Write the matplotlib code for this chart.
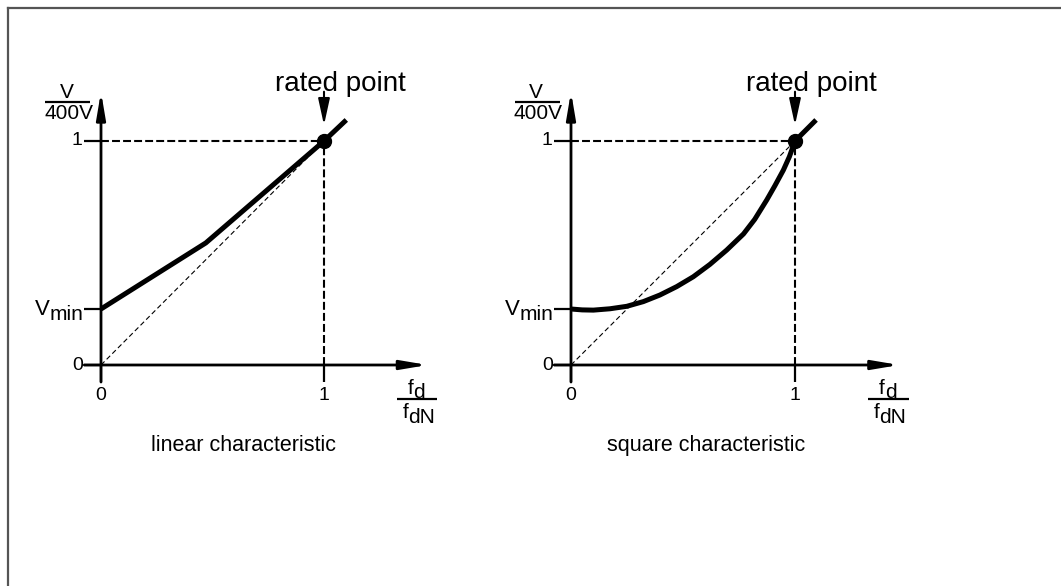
import matplotlib
matplotlib.use("Agg")
import matplotlib.pyplot as plt
from matplotlib.lines import Line2D

plt.rcParams['font.family'] = ['Liberation Sans', 'DejaVu Sans']

# --- characteristic curves (f_d/f_dN, V/400V) ---
v_min = 0.25
rated_f, rated_v = 1.0, 1.0

linear_f = [0.0, 0.47, 1.0, 1.10]
linear_v = [0.25, 0.545, 1.0, 1.094]

square_f = [0.0, 0.05, 0.1, 0.174, 0.249, 0.323, 0.397, 0.472, 0.546, 0.62,
            0.695, 0.77, 0.82, 0.874, 0.91, 0.948, 0.975, 1.0, 1.094]
square_v = [0.25, 0.246, 0.245, 0.251, 0.262, 0.283, 0.3125, 0.35, 0.394, 0.449,
            0.513, 0.585, 0.65, 0.737, 0.8, 0.87, 0.93, 1.0, 1.094]

x_ticks = [0, 1]
x_tick_labels = ['0', '1']
y_ticks = [0, 1]
y_tick_labels = ['0', '1']
captions = ['linear characteristic', 'square characteristic']
caption_x = [0.637, 0.603]

W, H = 1061, 586
fig = plt.figure(figsize=(W / 100, H / 100), dpi=100)

XLIM = (-0.45, 1.55)
YLIM = (-0.55, 1.40)


def make_axes(ox, oy, sx, sy):
    # place axes so that data (0,0) sits at pixel (ox, oy) with sx, sy px per unit
    left = ox + XLIM[0] * sx
    right = ox + XLIM[1] * sx
    bottom = oy - YLIM[0] * sy
    top = oy - YLIM[1] * sy
    ax = fig.add_axes([left / W, 1 - bottom / H, (right - left) / W, (bottom - top) / H])
    ax.set_xlim(*XLIM)
    ax.set_ylim(*YLIM)
    ax.axis('off')
    return ax


def label_with_sub(ax, x, y, base, sub, size, sub_size, drop=4):
    t = ax.text(x, y, base, fontsize=size, ha='left', va='baseline')
    ax.annotate(sub, xy=(1, 0), xycoords=t, xytext=(0, -drop),
                textcoords='offset pixels', fontsize=sub_size,
                ha='left', va='bottom')
    return t


def draw_panel(ax, f, v, caption, cx):
    k = dict(color='black', solid_capstyle='butt')
    arrow = dict(arrowstyle='-|>,head_length=1.6,head_width=0.27',
                 color='black', lw=2.0, shrinkA=0, shrinkB=0)

    # axes with arrow heads
    ax.annotate('', xy=(0, 1.22), xytext=(0, -0.076), arrowprops=arrow)
    ax.annotate('', xy=(1.465, 0), xytext=(-0.075, 0), arrowprops=arrow)

    # ticks
    for yt in y_ticks + [v_min]:
        ax.plot([-0.075, 0], [yt, yt], lw=1.6, **k)
    for xt in x_ticks:
        ax.plot([xt, xt], [0, -0.076], lw=1.6, **k)
    for yt, lab in zip(y_ticks, y_tick_labels):
        ax.text(-0.082, yt, lab, fontsize=14, ha='right', va='center')
    for xt, lab in zip(x_ticks, x_tick_labels):
        ax.text(xt, -0.1, lab, fontsize=14, ha='center', va='top')

    # guide lines to the rated point
    ax.plot([0, rated_f], [rated_v, rated_v], color='black', lw=1.5,
            dashes=(3.8, 1.5))
    ax.plot([rated_f, rated_f], [0, rated_v], color='black', lw=1.5,
            dashes=(3.8, 1.5))
    ax.plot([0, rated_f], [0, rated_v], color='black', lw=0.8,
            dashes=(4.5, 2.7))

    # characteristic
    ax.plot(f, v, color='black', lw=3.6, solid_joinstyle='round',
            solid_capstyle='butt', zorder=3)
    ax.plot([rated_f], [rated_v], 'o', color='black', markersize=10, zorder=4)

    # rated point marker
    ax.annotate('', xy=(rated_f, 1.071), xytext=(rated_f, 1.22),
                arrowprops=dict(arrowstyle='-|>,head_length=1.6,head_width=0.35',
                                color='black', lw=1.5, shrinkA=0, shrinkB=0))
    ax.text(1.075, 1.225, 'rated point', fontsize=20, ha='center', va='baseline')

    # y label V / 400V
    ax.text(-0.155, 1.175, 'V', fontsize=15, ha='center', va='bottom')
    ax.plot([-0.25, -0.05], [1.172, 1.172], color='black', lw=1.6,
            solid_capstyle='butt', clip_on=False)
    ax.text(-0.255, 1.163, '400V', fontsize=15, ha='left', va='top')

    # V_min label
    label_with_sub(ax, -0.297, 0.223, 'V', 'min', 16, 15, drop=4)

    # x label f_d / f_dN
    label_with_sub(ax, 1.375, -0.129, 'f', 'd', 15, 15, drop=4)
    ax.plot([1.327, 1.507], [-0.152, -0.152], color='black', lw=1.6,
            solid_capstyle='butt', clip_on=False)
    label_with_sub(ax, 1.352, -0.237, 'f', 'dN', 15, 15, drop=5)

    ax.text(cx, -0.36, caption, fontsize=15.5, ha='center', va='center')


ax_lin = make_axes(101, 365, 223, 224)
ax_sq = make_axes(571, 365, 224, 224)
draw_panel(ax_lin, linear_f, linear_v, captions[0], caption_x[0])
draw_panel(ax_sq, square_f, square_v, captions[1], caption_x[1])

# frame lines along the top and left edge
fig.add_artist(Line2D([7.5 / W, 1], [1 - 8 / H, 1 - 8 / H], color='#555555', lw=1.6,
                      transform=fig.transFigure))
fig.add_artist(Line2D([7.5 / W, 7.5 / W], [0, 1 - 8 / H], color='#555555', lw=1.6,
                      transform=fig.transFigure))

fig.savefig('out.png', dpi=100)
